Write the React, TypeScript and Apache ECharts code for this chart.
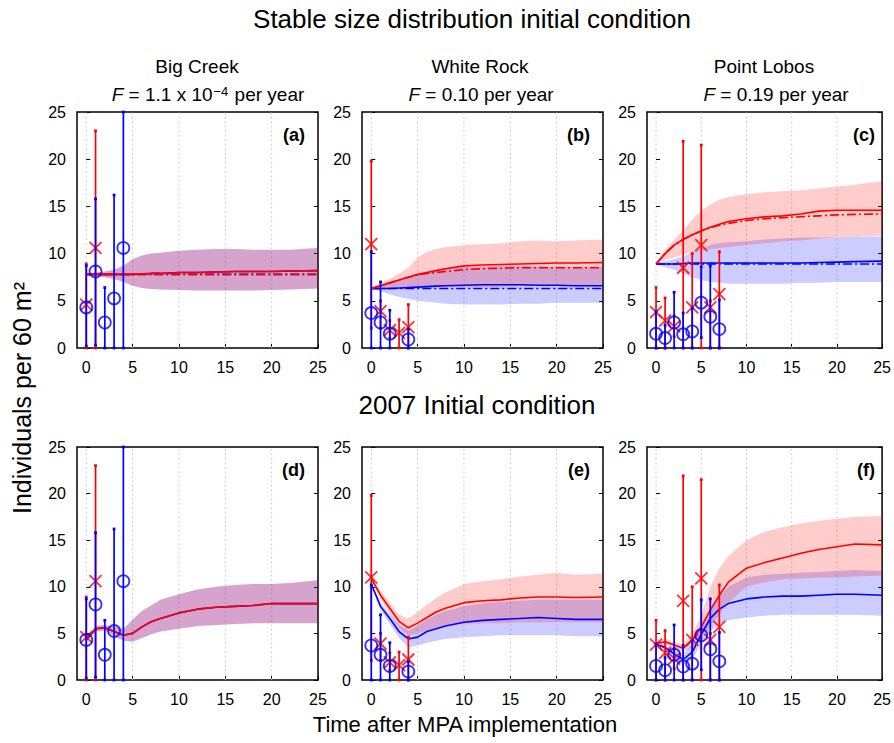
import React, { useEffect, useRef } from 'react';
import * as echarts from 'echarts';

// ---------- model time axis ----------
const modelYears = [0, 1, 2, 3, 4, 5, 6, 7, 8, 10, 12, 14, 16, 18, 20, 22, 25];

// ---------- Big Creek, stable size distribution IC (a) ----------
const bcSsRedMean = [7.8, 7.8, 7.8, 7.8, 7.8, 7.8, 7.85, 7.9, 7.9, 8.0, 8.0, 8.05, 8.1, 8.1, 8.1, 8.15, 8.2];
const bcSsRedDash = [7.8, 7.8, 7.8, 7.8, 7.8, 7.8, 7.8, 7.8, 7.8, 7.8, 7.8, 7.8, 7.8, 7.8, 7.8, 7.8, 7.8];
const bcSsBlueMean = [7.8, 7.8, 7.8, 7.8, 7.8, 7.8, 7.85, 7.9, 7.9, 8.0, 8.0, 8.05, 8.1, 8.1, 8.1, 8.15, 8.2];
const bcSsBlueDash = [7.8, 7.8, 7.8, 7.8, 7.8, 7.8, 7.8, 7.8, 7.8, 7.8, 7.8, 7.8, 7.8, 7.8, 7.8, 7.8, 7.8];
const bcSsUpper = [7.9, 8.0, 8.1, 8.3, 8.7, 9.4, 9.8, 10.0, 10.1, 10.3, 10.4, 10.5, 10.5, 10.4, 10.4, 10.4, 10.6];
const bcSsLower = [7.7, 7.6, 7.5, 7.3, 7.0, 6.6, 6.35, 6.25, 6.2, 6.15, 6.1, 6.1, 6.1, 6.1, 6.15, 6.2, 6.3];

// ---------- White Rock, stable IC (b) ----------
const wrSsRedMean = [6.3, 6.6, 6.9, 7.2, 7.5, 7.8, 8.0, 8.2, 8.4, 8.7, 8.8, 8.85, 8.9, 8.95, 9.0, 9.0, 9.05];
const wrSsRedDash = [6.3, 6.6, 6.9, 7.2, 7.5, 7.75, 7.9, 8.0, 8.1, 8.3, 8.4, 8.45, 8.5, 8.5, 8.5, 8.5, 8.5];
const wrSsRedUpper = [6.4, 6.9, 7.3, 7.9, 8.5, 9.6, 10.2, 10.5, 10.7, 10.9, 11.0, 11.1, 11.3, 11.4, 11.3, 11.4, 11.5];
const wrSsRedLower = [6.2, 6.3, 6.4, 6.5, 6.5, 6.5, 6.5, 6.5, 6.5, 6.5, 6.5, 6.5, 6.6, 6.6, 6.6, 6.6, 6.6];
const wrSsBlueMean = [6.3, 6.3, 6.3, 6.35, 6.4, 6.45, 6.5, 6.55, 6.6, 6.65, 6.7, 6.7, 6.7, 6.65, 6.65, 6.6, 6.6];
const wrSsBlueDash = [6.3, 6.3, 6.3, 6.3, 6.3, 6.3, 6.3, 6.3, 6.3, 6.3, 6.3, 6.3, 6.3, 6.3, 6.3, 6.3, 6.3];
const wrSsBlueUpper = [6.4, 6.6, 6.9, 7.2, 7.5, 7.8, 8.1, 8.3, 8.5, 8.6, 8.6, 8.7, 8.7, 8.6, 8.6, 8.6, 8.6];
const wrSsBlueLower = [6.2, 6.0, 5.7, 5.4, 5.2, 5.0, 4.9, 4.8, 4.7, 4.6, 4.6, 4.6, 4.7, 4.7, 4.8, 4.8, 4.8];

// ---------- Point Lobos, stable IC (c) ----------
const plSsRedMean = [8.9, 10.0, 10.9, 11.5, 12.0, 12.4, 12.8, 13.1, 13.4, 13.7, 13.9, 14.0, 14.2, 14.5, 14.6, 14.6, 14.6];
const plSsRedDash = [8.9, 10.0, 10.9, 11.5, 12.0, 12.4, 12.75, 13.0, 13.2, 13.5, 13.7, 13.8, 13.9, 14.0, 14.1, 14.15, 14.2];
const plSsRedUpper = [9.0, 10.4, 11.5, 12.5, 13.6, 14.5, 15.2, 15.7, 16.0, 16.3, 16.5, 16.6, 16.7, 16.9, 17.1, 17.3, 17.7];
const plSsRedLower = [8.8, 9.3, 9.6, 9.9, 10.1, 10.3, 10.5, 10.6, 10.7, 10.9, 11.1, 11.3, 11.4, 11.6, 11.7, 11.8, 11.9];
const plSsBlueMean = [8.9, 8.9, 8.9, 8.95, 9.0, 9.0, 9.0, 9.0, 9.0, 9.0, 9.0, 9.0, 9.0, 9.05, 9.1, 9.15, 9.2];
const plSsBlueDash = [8.9, 8.9, 8.9, 8.9, 8.9, 8.9, 8.9, 8.9, 8.9, 8.9, 8.9, 8.9, 8.9, 8.9, 8.9, 8.9, 8.9];
const plSsBlueUpper = [9.0, 9.2, 9.4, 9.7, 10.1, 10.5, 10.9, 11.1, 11.2, 11.3, 11.5, 11.6, 11.7, 11.7, 11.7, 11.8, 11.8];
const plSsBlueLower = [8.8, 8.6, 8.3, 7.9, 7.5, 7.2, 7.0, 6.9, 6.8, 6.8, 6.8, 6.8, 6.9, 6.9, 7.0, 7.0, 7.0];

// ---------- Big Creek, 2007 IC (d) ----------
const bc07Mean = [4.3, 5.5, 5.6, 5.2, 4.8, 5.0, 5.7, 6.25, 6.6, 7.2, 7.6, 7.8, 7.9, 8.0, 8.2, 8.2, 8.2];
const bc07Upper = [4.5, 5.8, 5.9, 5.7, 5.5, 6.5, 7.4, 8.0, 8.6, 9.2, 9.7, 10.0, 10.2, 10.3, 10.3, 10.4, 10.7];
const bc07Lower = [4.1, 5.2, 5.3, 4.7, 4.2, 4.1, 4.5, 4.9, 5.2, 5.5, 5.8, 5.9, 6.0, 6.1, 6.1, 6.1, 6.1];

// ---------- White Rock, 2007 IC (e) ----------
const wr07RedMean = [10.9, 9.1, 7.7, 6.3, 5.6, 6.1, 6.7, 7.3, 7.7, 8.3, 8.5, 8.6, 8.8, 8.9, 8.9, 8.85, 8.9];
const wr07RedUpper = [11.0, 9.6, 8.3, 7.0, 6.6, 7.3, 8.1, 8.8, 9.4, 10.3, 10.6, 10.8, 11.1, 11.3, 11.5, 11.3, 11.4];
const wr07RedLower = [10.8, 8.6, 7.1, 5.6, 4.8, 5.0, 5.3, 5.6, 5.8, 6.0, 6.1, 6.1, 6.2, 6.2, 6.2, 6.2, 6.2];
const wr07BlueMean = [10.3, 7.9, 6.6, 5.2, 4.4, 4.6, 5.2, 5.5, 5.8, 6.2, 6.4, 6.5, 6.6, 6.7, 6.6, 6.5, 6.5];
const wr07BlueUpper = [10.4, 8.3, 7.1, 5.9, 5.3, 5.8, 6.5, 7.0, 7.4, 7.9, 8.2, 8.4, 8.5, 8.6, 8.6, 8.6, 8.6];
const wr07BlueLower = [10.2, 7.5, 6.0, 4.5, 3.5, 3.7, 4.0, 4.2, 4.4, 4.6, 4.7, 4.8, 4.8, 4.8, 4.8, 4.7, 4.7];

// ---------- Point Lobos, 2007 IC (f) ----------
const pl07RedMean = [3.9, 4.1, 3.75, 3.4, 4.3, 5.7, 7.5, 9.1, 10.5, 12.0, 12.6, 13.1, 13.6, 14.0, 14.3, 14.6, 14.5];
const pl07RedUpper = [4.1, 4.4, 4.1, 3.8, 5.0, 6.9, 10.0, 12.0, 13.3, 15.0, 15.9, 16.4, 16.8, 17.1, 17.3, 17.5, 17.6];
const pl07RedLower = [3.7, 3.8, 3.4, 3.0, 3.5, 4.6, 5.8, 7.0, 8.3, 10.0, 10.5, 10.8, 10.9, 11.0, 11.0, 11.1, 11.2];
const pl07BlueMean = [3.8, 3.5, 2.8, 2.2, 3.0, 4.9, 6.6, 7.6, 8.2, 8.7, 8.9, 9.0, 9.0, 9.1, 9.2, 9.2, 9.1];
const pl07BlueUpper = [3.9, 3.8, 3.2, 2.8, 3.8, 5.8, 7.8, 9.0, 10.0, 11.0, 11.3, 11.4, 11.5, 11.6, 11.7, 11.8, 11.7];
const pl07BlueLower = [3.7, 3.3, 2.3, 1.6, 2.2, 3.9, 5.3, 6.0, 6.4, 6.7, 6.9, 7.0, 7.0, 7.0, 7.0, 7.0, 6.9];

// ---------- survey observations (red = x, blue = circles) ----------
const bcRedYears = [0, 1];
const bcRed = [4.6, 10.6];
const bcRedLow = [0, 0];
const bcRedHigh = [8.9, 23.0];
const bcBlueYears = [0, 1, 2, 3, 4];
const bcBlue = [4.3, 8.1, 2.7, 5.25, 10.6];
const bcBlueLow = [0.2, 0.3, 0, 0, 0];
const bcBlueHigh = [8.7, 15.8, 6.4, 16.2, 26.0];

const wrRedYears = [0, 1, 2, 3, 4];
const wrRed = [11.0, 3.9, 1.9, 1.6, 2.2];
const wrRedLow = [2.1, 2.1, 1.0, 0, 0];
const wrRedHigh = [19.8, 5.0, 2.9, 3.0, 4.6];
const wrBlueYears = [0, 1, 2, 4];
const wrBlue = [3.7, 2.7, 1.5, 0.9];
const wrBlueLow = [0, 0, 0, 0];
const wrBlueHigh = [10.2, 7.0, 4.0, 2.0];

const plRedYears = [0, 1, 2, 3, 4, 5, 6, 7];
const plRed = [3.8, 2.9, 2.3, 8.5, 4.3, 10.9, 4.3, 5.7];
const plRedLow = [0, 0, 1.2, 0, 0, 0, 0, 0];
const plRedHigh = [6.4, 5.3, 3.4, 21.9, 10.0, 21.5, 5.0, 10.2];
const plBlueYears = [0, 1, 2, 3, 4, 5, 6, 7];
const plBlue = [1.5, 1.05, 2.7, 1.45, 1.75, 4.8, 3.3, 2.0];
const plBlueLow = [0, 0, 0, 0, 0, 1.1, 0, 0];
const plBlueHigh = [3.85, 2.4, 5.9, 3.7, 4.25, 8.6, 8.7, 5.1];

// ---------- axes / texts ----------
const xTicks = [0, 5, 10, 15, 20, 25];
const xGridLines = [0, 5, 10, 15, 20];
const panelLetters = ['(a)', '(b)', '(c)', '(d)', '(e)', '(f)'];
const siteNames = ['Big Creek', 'White Rock', 'Point Lobos'];

const RED = '#ff0000';
const BLUE = '#0000ff';
const RED_FILL = 'rgba(255,0,0,0.2)';
const BLUE_FILL = 'rgba(0,0,255,0.2)';
const NARROW = '"Liberation Sans Narrow", "Liberation Sans", Arial, sans-serif';
const SANS = '"Liberation Sans", Arial, sans-serif';

// layout
const gridLefts = [77, 362, 647];
const gridWidth = 241;
const rowTops = [112, 447];
const rowHeights = [236, 233];

type Obs = { x: number[]; y: number[]; low: number[]; high: number[] };
type Panel = {
  redMean: number[]; redUpper: number[]; redLower: number[]; redDash?: number[];
  blueMean: number[]; blueUpper: number[]; blueLower: number[]; blueDash?: number[];
  red: Obs; blue: Obs;
};

const bcRedObs: Obs = { x: bcRedYears, y: bcRed, low: bcRedLow, high: bcRedHigh };
const bcBlueObs: Obs = { x: bcBlueYears, y: bcBlue, low: bcBlueLow, high: bcBlueHigh };
const wrRedObs: Obs = { x: wrRedYears, y: wrRed, low: wrRedLow, high: wrRedHigh };
const wrBlueObs: Obs = { x: wrBlueYears, y: wrBlue, low: wrBlueLow, high: wrBlueHigh };
const plRedObs: Obs = { x: plRedYears, y: plRed, low: plRedLow, high: plRedHigh };
const plBlueObs: Obs = { x: plBlueYears, y: plBlue, low: plBlueLow, high: plBlueHigh };

const panels: Panel[] = [
  { redMean: bcSsRedMean, redUpper: bcSsUpper, redLower: bcSsLower, redDash: bcSsRedDash,
    blueMean: bcSsBlueMean, blueUpper: bcSsUpper, blueLower: bcSsLower, blueDash: bcSsBlueDash,
    red: bcRedObs, blue: bcBlueObs },
  { redMean: wrSsRedMean, redUpper: wrSsRedUpper, redLower: wrSsRedLower, redDash: wrSsRedDash,
    blueMean: wrSsBlueMean, blueUpper: wrSsBlueUpper, blueLower: wrSsBlueLower, blueDash: wrSsBlueDash,
    red: wrRedObs, blue: wrBlueObs },
  { redMean: plSsRedMean, redUpper: plSsRedUpper, redLower: plSsRedLower, redDash: plSsRedDash,
    blueMean: plSsBlueMean, blueUpper: plSsBlueUpper, blueLower: plSsBlueLower, blueDash: plSsBlueDash,
    red: plRedObs, blue: plBlueObs },
  { redMean: bc07Mean, redUpper: bc07Upper, redLower: bc07Lower,
    blueMean: bc07Mean, blueUpper: bc07Upper, blueLower: bc07Lower,
    red: bcRedObs, blue: bcBlueObs },
  { redMean: wr07RedMean, redUpper: wr07RedUpper, redLower: wr07RedLower,
    blueMean: wr07BlueMean, blueUpper: wr07BlueUpper, blueLower: wr07BlueLower,
    red: wrRedObs, blue: wrBlueObs },
  { redMean: pl07RedMean, redUpper: pl07RedUpper, redLower: pl07RedLower,
    blueMean: pl07BlueMean, blueUpper: pl07BlueUpper, blueLower: pl07BlueLower,
    red: plRedObs, blue: plBlueObs },
];

const Y_MIN = 0;
const Y_MAX = 25;

function gridLineRender(params: any, api: any) {
  const x = api.value(0);
  const p1 = api.coord([x, Y_MIN]);
  const p2 = api.coord([x, Y_MAX]);
  return {
    type: 'line',
    shape: { x1: p1[0], y1: p1[1], x2: p2[0], y2: p2[1] },
    style: { stroke: '#c4c4c4', lineWidth: 1, lineDash: [1.5, 3] },
  };
}

function bandRender(lower: number[], upper: number[], fill: string) {
  return (params: any, api: any) => {
    if (params.dataIndex !== 0) return null;
    const pts: number[][] = [];
    modelYears.forEach((x, i) => pts.push(api.coord([x, upper[i]])));
    for (let i = modelYears.length - 1; i >= 0; i--) pts.push(api.coord([modelYears[i], lower[i]]));
    return { type: 'polygon', shape: { points: pts }, style: { fill, stroke: 'none' } };
  };
}

function errRender(color: string) {
  return (params: any, api: any) => {
    const x = api.value(0);
    const lo = api.value(1);
    const hi = Math.min(api.value(2), Y_MAX);
    const p1 = api.coord([x, lo]);
    const p2 = api.coord([x, hi]);
    const w = 1.7;
    return {
      type: 'group',
      children: [
        { type: 'rect', shape: { x: p1[0] - w / 2, y: p2[1], width: w, height: p1[1] - p2[1] }, style: { fill: color, stroke: 'none' } },
        { type: 'rect', shape: { x: p1[0] - 1.4, y: p1[1] - 1.4, width: 2.8, height: 2.8 }, style: { fill: color, stroke: 'none' } },
        { type: 'rect', shape: { x: p2[0] - 1.4, y: p2[1] - 1.4, width: 2.8, height: 2.8 }, style: { fill: color, stroke: 'none' } },
      ],
    };
  };
}

function lineSeries(i: number, values: number[], color: string, dashed: boolean) {
  return {
    type: 'line', xAxisIndex: i, yAxisIndex: 2 * i, z: 3,
    data: modelYears.map((x, k) => [x, values[k]]),
    showSymbol: false, symbol: 'none', silent: true,
    lineStyle: { color, width: 1.6, type: dashed ? [9, 3, 2, 3] : 'solid' },
  };
}

function buildOption() {
  const grid: any[] = [];
  const xAxis: any[] = [];
  const yAxis: any[] = [];
  const series: any[] = [];
  const graphic: any[] = [];

  panels.forEach((p, i) => {
    const col = i % 3;
    const row = Math.floor(i / 3);
    const left = gridLefts[col];
    const top = rowTops[row];
    grid.push({ left, top, width: gridWidth, height: rowHeights[row], show: true, borderColor: '#000', borderWidth: 1.5, backgroundColor: 'transparent' });
    xAxis.push({
      type: 'value', gridIndex: i, min: -1, max: 25,
      axisLine: { show: false },
      axisTick: { show: true, inside: true, length: 4, customValues: xTicks, lineStyle: { color: '#000' } },
      axisLabel: { show: true, customValues: xTicks, color: '#000', fontFamily: SANS, fontSize: 16, margin: 11 },
      splitLine: { show: false },
    });
    yAxis.push({
      type: 'value', gridIndex: i, min: Y_MIN, max: Y_MAX, interval: 5, position: 'left',
      axisLine: { show: false },
      axisTick: { show: true, inside: true, length: 4, lineStyle: { color: '#000' } },
      axisLabel: { color: '#000', fontFamily: SANS, fontSize: 16, margin: 11 },
      splitLine: { show: false },
    });
    yAxis.push({
      type: 'value', gridIndex: i, min: Y_MIN, max: Y_MAX, interval: 5, position: 'right',
      axisLine: { show: false },
      axisTick: { show: true, inside: true, length: 4, lineStyle: { color: '#000' } },
      axisLabel: { show: false },
      splitLine: { show: false },
    });

    // dotted vertical grid lines
    series.push({
      type: 'custom', xAxisIndex: i, yAxisIndex: 2 * i, z: 1, silent: true,
      data: xGridLines.map((v) => [v]),
      encode: { x: 0 },
      renderItem: gridLineRender,
    });

    // bands
    series.push({
      type: 'custom', xAxisIndex: i, yAxisIndex: 2 * i, z: 2, silent: true,
      data: modelYears.map((x, k) => [x, p.blueLower[k], p.blueUpper[k]]),
      encode: { x: 0, y: [1, 2] },
      renderItem: bandRender(p.blueLower, p.blueUpper, BLUE_FILL),
    });
    series.push({
      type: 'custom', xAxisIndex: i, yAxisIndex: 2 * i, z: 2, silent: true,
      data: modelYears.map((x, k) => [x, p.redLower[k], p.redUpper[k]]),
      encode: { x: 0, y: [1, 2] },
      renderItem: bandRender(p.redLower, p.redUpper, RED_FILL),
    });

    // lines
    series.push(lineSeries(i, p.blueMean, BLUE, false));
    if (p.blueDash) series.push(lineSeries(i, p.blueDash, BLUE, true));
    series.push(lineSeries(i, p.redMean, RED, false));
    if (p.redDash) series.push(lineSeries(i, p.redDash, RED, true));

    // red observations
    series.push({
      type: 'custom', xAxisIndex: i, yAxisIndex: 2 * i, z: 4, silent: true,
      data: p.red.x.map((x, k) => [x, p.red.low[k], p.red.high[k]]),
      encode: { x: 0, y: [1, 2] },
      renderItem: errRender(RED),
    });
    series.push({
      type: 'scatter', xAxisIndex: i, yAxisIndex: 2 * i, z: 5, silent: true,
      data: p.red.x.map((x, k) => [x, p.red.y[k]]),
      symbol: 'path://M0,0L10,10M10,0L0,10', symbolSize: 12,
      itemStyle: { color: 'transparent', borderColor: RED, borderWidth: 1.8 },
    });
    // blue observations
    series.push({
      type: 'custom', xAxisIndex: i, yAxisIndex: 2 * i, z: 6, silent: true,
      data: p.blue.x.map((x, k) => [x, p.blue.low[k], p.blue.high[k]]),
      encode: { x: 0, y: [1, 2] },
      renderItem: errRender(BLUE),
    });
    series.push({
      type: 'scatter', xAxisIndex: i, yAxisIndex: 2 * i, z: 7, silent: true,
      data: p.blue.x.map((x, k) => [x, p.blue.y[k]]),
      symbol: 'circle', symbolSize: 12,
      itemStyle: { color: 'transparent', borderColor: BLUE, borderWidth: 1.8 },
    });

    graphic.push({
      type: 'text', x: left + gridWidth - 13, y: top + 23, silent: true, z: 10,
      style: { text: panelLetters[i], fontFamily: SANS, fontSize: 18, fontWeight: 'bold', fill: '#000', textAlign: 'right', textVerticalAlign: 'middle' },
    });
  });

  const txt = (text: string, x: number, y: number, size: number, extra: any = {}) => ({
    type: 'text', x, y, silent: true,
    style: { text, fontFamily: NARROW, fontSize: size, fill: '#000', textAlign: 'center', textVerticalAlign: 'middle', ...extra },
  });

  graphic.push(txt('Stable size distribution initial condition', 472, 19, 26));
  graphic.push(txt('2007 Initial condition', 477, 405, 26));
  graphic.push(txt('Time after MPA implementation', 465, 724, 22));
  graphic.push({ ...txt('Individuals per 60 m²', 22, 398, 25), rotation: Math.PI / 2 });

  const subX = [197, 480, 764];
  siteNames.forEach((s, c) => graphic.push(txt(s, subX[c], 66, 19)));

  const fX = [208, 481, 776];
  const fTexts = ['{it|F} = 1.1 x 10{sup|−4} per year', '{it|F} = 0.10 per year', '{it|F} = 0.19 per year'];
  fTexts.forEach((t, c) =>
    graphic.push(txt(t, fX[c], 94, 19, {
      rich: {
        it: { fontFamily: NARROW, fontSize: 19, fontStyle: 'italic', fill: '#000' },
        sup: { fontFamily: NARROW, fontSize: 13, fill: '#000', verticalAlign: 'top', padding: [0, 1, 0, 1] },
      },
    }))
  );

  return { animation: false, backgroundColor: '#fff', grid, xAxis, yAxis, series, graphic };
}

export default function App() {
  const ref = useRef<HTMLDivElement>(null);
  useEffect(() => {
    if (!ref.current) return;
    const chart = echarts.init(ref.current, undefined, { renderer: 'svg' });
    chart.setOption(buildOption() as any);
    return () => chart.dispose();
  }, []);
  return <div ref={ref} style={{ position: 'fixed', left: 0, top: 0, width: 894, height: 743 }} />;
}
